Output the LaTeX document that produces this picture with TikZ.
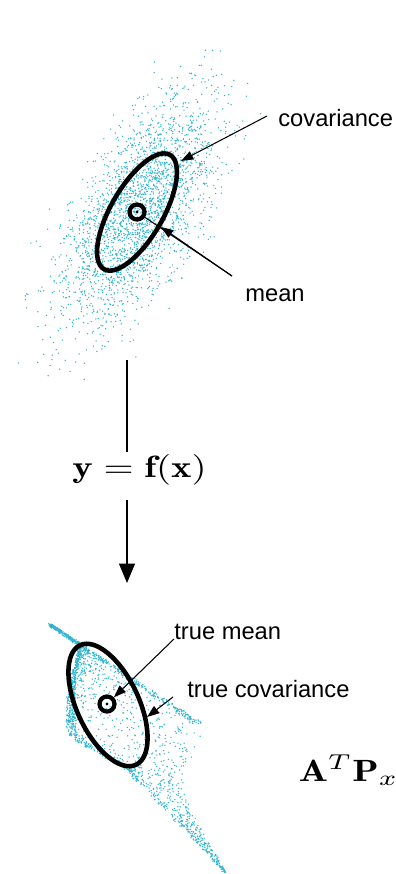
\documentclass[tikz,border=0pt]{standalone}
\usepackage{amsmath,amssymb}
\usepackage{fontspec}
\newfontfamily\lblfont{Liberation Sans}
\usetikzlibrary{arrows.meta,calc}
\definecolor{ptcyan}{RGB}{45,180,208}

\begin{document}
\begin{tikzpicture}[x=0.02cm,y=-0.02cm,
    declare function={lb(\yy)=\yy<645 ? 50+1.5*(\yy-625) : (\yy<700 ? 80-0.236*(\yy-645) : (\yy<735 ? 67 : (\yy<770 ? 67+1.71*(\yy-735) : 127+0.96*(\yy-770))));
        rb(\yy)=\yy<725 ? 50+1.55*(\yy-625) : (\yy<790 ? 205-0.385*(\yy-725) : 180+0.549*(\yy-790));},
    dot/.style={fill=ptcyan},
    covell/.style={line width=2.6pt},
    mu/.style={circle,draw,line width=2.4pt,minimum size=0.3cm,inner sep=0pt},
    lbl/.style={font=\lblfont\fontsize{13.5}{16}\selectfont,anchor=base west,inner sep=0pt},
    ptr/.style={line width=0.6pt,-{Triangle[length=7pt,width=5pt]}},
    big/.style={line width=0.9pt,-{Triangle[length=11pt,width=9pt]}},
    eq/.style={xscale=2.2,yscale=1.75,inner sep=0pt}]
    \useasboundingbox (0,0) rectangle (395,874);
    \pgfmathsetseed{11}
    % prior samples
    \foreach \i in {1,...,2600} {
        \pgfmathsetmacro\u{0.87*(rand+rand+rand+rand)}
        \pgfmathsetmacro\v{0.87*(rand+rand+rand+rand)}
        \fill[dot] ({137+32*\u+23.4*\v},{212-55.4*\u+13.5*\v}) circle[radius=0.75];
    }
    % transformed samples
    \foreach \i in {1,...,1300} {
        \pgfmathsetmacro\py{625+247*rnd^1.3}
        \pgfmathsetmacro\t{rnd^1.4}
        \fill[dot] ({lb(\py)*(1-\t)+rb(\py)*\t+1.5*rand},{\py+1.5*rand}) circle[radius=0.75];
    }
    \foreach \i in {1,...,450} {
        \pgfmathsetmacro\py{640+140*rnd}
        \pgfmathsetmacro\t{0.07*rnd}
        \fill[dot] ({lb(\py)*(1-\t)+rb(\py)*\t+1.5*rand},{\py+1.5*rand}) circle[radius=0.75];
    }
    \foreach \i in {1,...,300} {
        \pgfmathsetmacro\py{625+100*rnd}
        \pgfmathsetmacro\t{1-0.08*rnd}
        \fill[dot] ({lb(\py)*(1-\t)+rb(\py)*\t+1.5*rand},{\py+1.5*rand}) circle[radius=0.75];
    }

    \draw[covell,rotate around={60:(137,212)}] (137,212) ellipse[x radius=66,y radius=26];
    \node[mu] (mutop) at (137,212) {};
    \fill (mutop.center) circle[radius=1.6];
    \node[lbl] (covlbl) at (278,127) {covariance};
    \node[lbl] (meanlbl) at (245,302) {mean};
    \coordinate (covtip) at (181,161);
    \coordinate (meantip) at (161,227);
    \draw[ptr] ($(covlbl.base west)+(-11,-11)$) -- (covtip);
    \draw[line width=0.6pt] ($(meanlbl.base west)+(-13,-26)$) -- (mutop);
    \draw[ptr] ($(meanlbl.base west)+(-13,-26)$) -- (meantip);

    \coordinate (ftop) at (127,360);
    \coordinate (fcut1) at (127,452);
    \coordinate (fcut2) at (127,500);
    \coordinate (fend) at (127,583);
    \node[eq,anchor=base] (fx) at (139.5,477) {$\mathbf{y}=\mathbf{f}(\mathbf{x})$};
    \draw[line width=0.9pt] (ftop) -- (fcut1);
    \draw[big] (fcut2) -- (fend);

    \draw[covell,rotate around={115:(108,705)}] (108,705) ellipse[x radius=66,y radius=31];
    \node[mu] (mubot) at (107,704) {};
    \fill (mubot.center) circle[radius=1.6];
    \node[lbl] (tmlbl) at (174,639) {true mean};
    \node[lbl] (tclbl) at (187,697) {true covariance};
    \coordinate (tctip) at (147,717);
    \draw[ptr] (tmlbl.base west) -- (mubot);
    \draw[ptr] ($(tclbl.base west)+(-14,0)$) -- (tctip);
    \node[eq,anchor=base west] (atpx) at (298,781) {$\mathbf{A}^T\mathbf{P}_x$};
\end{tikzpicture}
\end{document}
